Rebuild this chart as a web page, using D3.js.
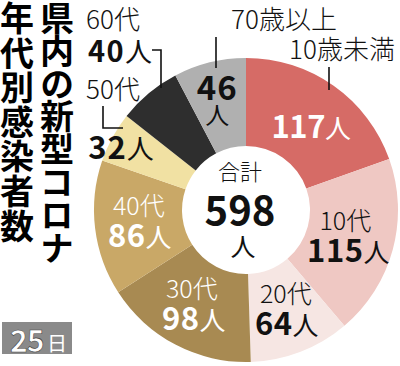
<!DOCTYPE html>
<html><head><meta charset="utf-8">
<script src="https://cdn.jsdelivr.net/npm/d3@7"></script>
<style>body{margin:0;background:#fff}svg{display:block}</style>
</head><body><svg id="c" width="400" height="366"></svg>
<script>
// ---- data ----
const categories = ["10歳未満","10代","20代","30代","40代","50代","60代","70歳以上"];
const values = [117,115,64,98,86,32,40,46];
const unit = "人";
const totalLabel = "合計";
const titleRight = "県内の新型コロナ";
const titleLeft = "年代別感染者数";
const dateNum = "25", dateUnit = "日";

// ---- styles ----
const colors = ["#d66b66","#efc8c3","#f6e6e3","#a88a52","#c9a867","#f1e1a3","#2e2e2e","#b0b0b0"];
const insideText = ["#fff","#111","#111","#fff","#fff",null,null,"#111"];
const FONT = "'Noto Sans CJK JP','Noto Sans',sans-serif";

const svg = d3.select("#c");
const cx = 246, cy = 210, r0 = 64, r1 = 152;
const total = d3.sum(values);

const pie = d3.pie().sort(null).value(d => d);
const arcs = pie(values);
const arc = d3.arc().innerRadius(r0).outerRadius(r1);
const labelArc = d3.arc().innerRadius(108).outerRadius(108);

const g = svg.append("g").attr("transform", `translate(${cx},${cy})`);
g.selectAll("path").data(arcs).join("path")
  .attr("d", arc).attr("fill", (d,i) => colors[i]);

function countText(sel, v, numSize, unitSize, ls) {
  sel.append("tspan").attr("font-size",numSize).attr("font-weight",700).attr("letter-spacing",ls).text(v);
  sel.append("tspan").attr("font-size",unitSize).attr("font-weight",400).attr("letter-spacing",0).text(unit);
}

// inside labels (category over count)
const inside = [
  {i:0, mode:"single", dx:3, dy:16},
  {i:1, mode:"two", dx:-5, dx2:-2, dy:-8},
  {i:2, mode:"two", dx:1, dx2:2, dy:-8},
  {i:3, mode:"two", dx:-4, dx2:-2, dy:-8},
  {i:4, mode:"two", dx:0, dx2:1, dy:-8},
  {i:7, mode:"stack", dx:-3, dy:-5}
];
inside.forEach(L => {
  const [x, y] = labelArc.centroid(arcs[L.i]);
  const col = insideText[L.i];
  if (L.mode === "single") {
    const t = g.append("text").attr("x", x + L.dx).attr("y", y + L.dy)
      .attr("text-anchor","middle").attr("fill", col).attr("font-family", FONT);
    countText(t, values[L.i], 31, 26, -0.5);
  } else if (L.mode === "two") {
    g.append("text").attr("x", x + L.dx).attr("y", y + L.dy)
      .attr("text-anchor","middle").attr("fill", col).attr("font-family", FONT)
      .attr("font-size",25).attr("font-weight",300).text(categories[L.i]);
    const t = g.append("text").attr("x", x + L.dx2).attr("y", y + L.dy + 32)
      .attr("text-anchor","middle").attr("fill", col).attr("font-family", FONT);
    countText(t, values[L.i], 31, 26, 0.5);
  } else {
    g.append("text").attr("x", x + L.dx).attr("y", y + L.dy)
      .attr("text-anchor","middle").attr("fill", col).attr("font-family", FONT)
      .attr("font-size",33).attr("font-weight",700).attr("letter-spacing",1).text(values[L.i]);
    g.append("text").attr("x", x + L.dx).attr("y", y + L.dy + 24)
      .attr("text-anchor","middle").attr("fill", col).attr("font-family", FONT)
      .attr("font-size",24).attr("font-weight",400).text(unit);
  }
});

// outside labels with leaders (annotation layout)
const lineStyle = s => s.attr("fill","none").attr("stroke","#111").attr("stroke-width",1.6);
const ann = svg.append("g");
const outLabel = (x, y, txt) => ann.append("text").attr("x",x).attr("y",y).attr("text-anchor","middle")
  .attr("font-family",FONT).attr("font-size",26).attr("font-weight",300).attr("fill","#111").text(txt);
// 10歳未満
outLabel(342, 59, categories[0]);
ann.append("path").call(lineStyle).attr("d","M329,67V90");
// 70歳以上
outLabel(284, 29, categories[7]);
ann.append("path").call(lineStyle).attr("d","M216,37V68");
// 60代
outLabel(113, 29, categories[6]);
countText(ann.append("text").attr("x",120).attr("y",62).attr("text-anchor","middle").attr("font-family",FONT).attr("fill","#111"),
  values[6], 29, 27, 1.5);
ann.append("path").call(lineStyle).attr("d","M152,50H161V88");
// 50代
outLabel(113, 99, categories[5]);
countText(ann.append("text").attr("x",121).attr("y",159).attr("text-anchor","middle").attr("font-family",FONT).attr("fill","#111"),
  values[5], 31, 27, 1);
ann.append("path").call(lineStyle).attr("d","M103,106V128H123");

// center total
svg.append("text").attr("x",240).attr("y",180).attr("text-anchor","middle")
  .attr("font-family",FONT).attr("font-size",22).attr("font-weight",300).attr("fill","#111").text(totalLabel);
svg.append("text").attr("x",240).attr("y",225).attr("text-anchor","middle")
  .attr("font-family",FONT).attr("font-size",40).attr("font-weight",700).attr("fill","#111").text(total);
svg.append("text").attr("x",243).attr("y",256).attr("text-anchor","middle")
  .attr("font-family",FONT).attr("font-size",25).attr("font-weight",400).attr("fill","#111").text(unit);

// vertical title (two columns, read right to left)
const title = svg.append("g").attr("font-family",FONT).attr("font-weight",700).attr("fill","#000").attr("font-size",34);
title.append("text").attr("x",57).attr("y",1)
  .style("writing-mode","vertical-rl").style("text-orientation","upright")
  .attr("letter-spacing",-1.2).text(titleRight);
title.append("text").attr("x",17).attr("y",1)
  .style("writing-mode","vertical-rl").style("text-orientation","upright")
  .attr("letter-spacing",0.6).text(titleLeft);

// date badge
svg.append("rect").attr("x",2).attr("y",322).attr("width",70).attr("height",32).attr("fill","#8a8a8a");
svg.append("text").attr("x",10).attr("y",352).attr("font-family",FONT).attr("font-size",30).attr("font-weight",700)
  .attr("letter-spacing",-1).attr("fill","#fff").attr("stroke","#444").attr("stroke-width",0.6).text(dateNum);
svg.append("text").attr("x",47).attr("y",351).attr("font-family",FONT).attr("font-size",20).attr("font-weight",400)
  .attr("fill","#fff").text(dateUnit);
</script></body></html>
